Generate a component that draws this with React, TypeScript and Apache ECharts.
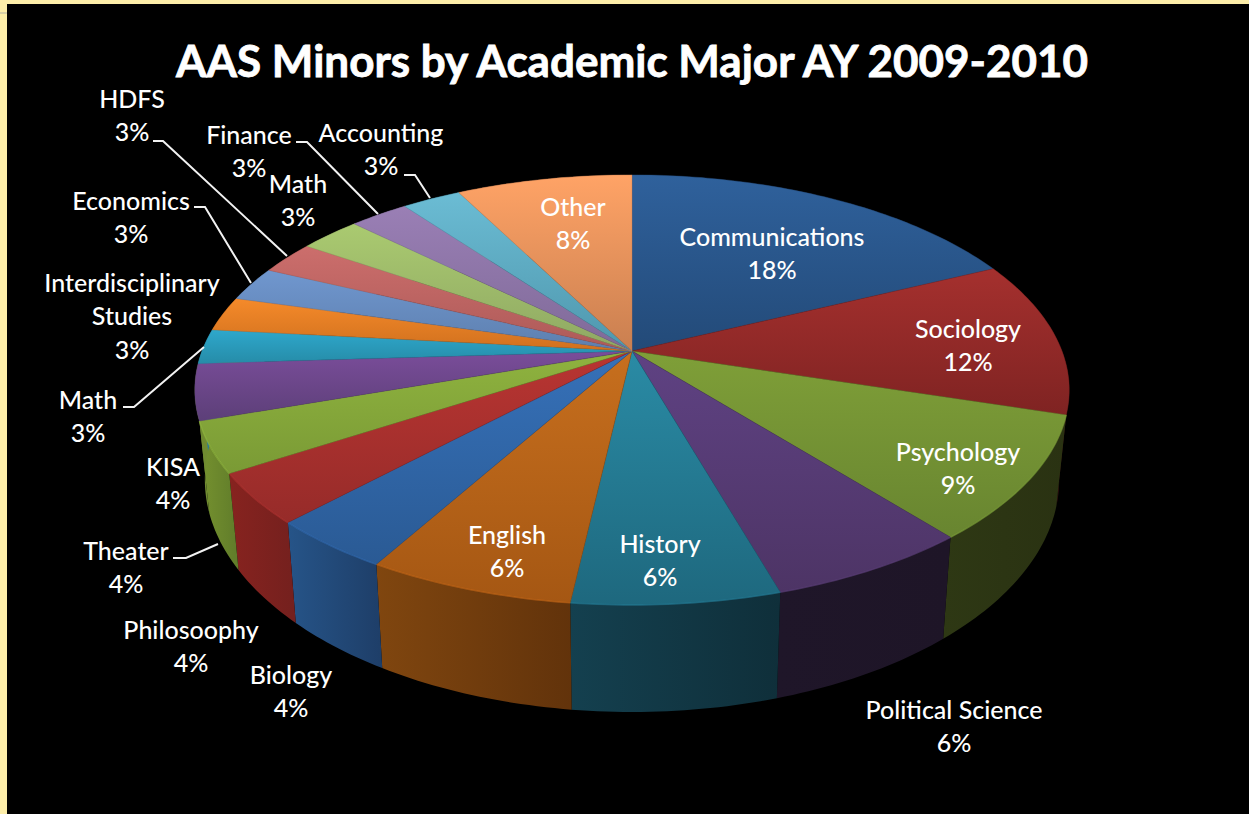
import React, { useEffect, useRef } from "react";
import * as echarts from "echarts";

const titleText = "AAS Minors by Academic Major AY 2009-2010";
const categories = [
  "Communications", "Sociology", "Psychology", "Political Science", "History", "English",
  "Biology", "Philosoophy", "Theater", "KISA", "Math", "Interdisciplinary\nStudies",
  "Economics", "HDFS", "Math", "Finance", "Accounting", "Other",
];
const shares = [18, 11.7, 9.3, 6.4, 6.48, 6.48, 3.9, 3.8, 3.8, 4.2, 2.6, 2.6, 2.6, 2.5, 2.7, 2.6, 2.6, 7.74];

const topBright = ["#2f619c", "#a5302e", "#7f9f38", "#5f4283", "#2a8ba5", "#c76f1e", "#3671b9", "#b93532", "#8fb33f", "#7a4d9a", "#2ea8cc", "#f58a2a", "#7097cf", "#cc6e6c", "#aaca70", "#9a7fb5", "#6bbcd4", "#ffa366"];
const topDark = ["#234a78", "#7f2322", "#688530", "#4d3465", "#1e687e", "#a55713", "#2a5a94", "#962b29", "#7a9a35", "#5c3f78", "#268ca8", "#d0701e", "#5d7fae", "#ad5a58", "#8fa863", "#7f6a98", "#4f97ad", "#c97f50"];
const wallLeft = ["#101f33", "#3a1110", "#2e3814", "#1f1629", "#14404f", "#80460f", "#265488", "#87231f", "#76922f", "#6f8a30", "#2a7a96", "#a86020", "#50709a", "#944e4c", "#7a9050", "#6a5a80", "#408090", "#a06a40"];
const wallRight = ["#101f33", "#3a1110", "#2a3212", "#1e1527", "#0f2f3a", "#62330b", "#1e3e68", "#74201e", "#607c2a", "#6f8a30", "#2a7a96", "#a86020", "#50709a", "#944e4c", "#7a9050", "#6a5a80", "#408090", "#a06a40"];

// label centres of the first line, and leader lines
const labelAnchors = [
  [772, 236], [968, 328], [958, 451], [954, 709], [660, 543], [507, 534],
  [291, 674], [191, 629], [126, 550], [173, 466], [88, 399], [132, 282],
  [131, 200], [132, 98], [298, 183], [249, 134], [381, 132], [573, 206],
];
const leaderLines = [
  [[153, 141], [163, 141], [287, 256]],
  [[296, 142], [307, 142], [378, 214]],
  [[404, 175], [415, 175], [430, 198]],
  [[194, 207], [205, 207], [251, 283]],
  [[123, 407], [134, 407], [204, 347]],
  [[173, 558], [186, 558], [218, 544]],
];

const FONT = "Lato, Carlito, sans-serif";
const cx = 632, cy = 351;
const K = 0.181, A = 430, B = 208;
const sideScale = 0.977, sideY = 1.08, rimFront = 605, baseFront = 712;

function projectTop(t: number) {
  const u = Math.sin(t), v = -Math.cos(t), w = 1 - K * v;
  return [cx + (A * u) / w, cy + (B * v) / w];
}
function projectBase(t: number) {
  const [x, y] = projectTop(t);
  return [cx + sideScale * (x - cx), baseFront + sideY * (y - rimFront)];
}
function arc(fn: (t: number) => number[], a: number, b: number) {
  const n = Math.max(2, Math.ceil(((b - a) * 180) / Math.PI));
  const pts: number[][] = [];
  for (let i = 0; i <= n; i++) pts.push(fn(a + ((b - a) * i) / n));
  return pts;
}
const total = shares.reduce((s, x) => s + x, 0);
const angleStart: number[] = [];
shares.reduce((acc, x, i) => {
  angleStart[i] = (acc / total) * Math.PI * 2;
  return acc + x;
}, 0);
const angleEnd = (i: number) => angleStart[i] + (shares[i] / total) * Math.PI * 2;

export default function App() {
  const ref = useRef<HTMLDivElement>(null);
  useEffect(() => {
    document.body.style.margin = "0";
    document.body.style.background = "#000";
    const chart = echarts.init(ref.current!, null, { renderer: "svg" });
    const data = shares.map((v, i) => ({ name: categories[i], value: v }));
    chart.setOption({
      animation: false,
      backgroundColor: "#000000",
      graphic: [
        { type: "rect", z: 0, shape: { x: 0, y: 0, width: 1249, height: 4 }, style: { fill: "#fdeea9" } },
        { type: "rect", z: 0, shape: { x: 0, y: 0, width: 7, height: 814 }, style: { fill: "#fdeea9" } },
        { type: "rect", z: 0, shape: { x: 0, y: 12, width: 7, height: 2 }, style: { fill: "#d8d0a8" } },
        {
          type: "text", z: 5, x: 632, y: 60,
          style: { text: titleText, fill: "#ffffff", font: `bold 44px ${FONT}`, align: "center", verticalAlign: "middle", stroke: "#ffffff", lineWidth: 0.8 },
        },
      ],
      series: [
        {
          type: "custom", coordinateSystem: "none", z: 1, silent: true, data,
          renderItem: (params: any) => {
            const i = params.dataIndex;
            const a = angleStart[i], b = angleEnd(i);
            const pts = [...arc(projectTop, a, b), ...arc(projectBase, a, b).reverse()];
            return {
              type: "polygon",
              shape: { points: pts },
              style: {
                fill: new echarts.graphic.LinearGradient(0, 0, 1, 0, [
                  { offset: 0, color: wallLeft[i] },
                  { offset: 1, color: wallRight[i] },
                ]),
              },
            };
          },
        },
        {
          type: "custom", coordinateSystem: "none", z: 2, silent: true, data,
          renderItem: (params: any) => {
            const i = params.dataIndex;
            const a = angleStart[i], b = angleEnd(i);
            const rim = arc(projectTop, a, b);
            const fill = new echarts.graphic.LinearGradient(0, 0, 0, 1, [
              { offset: 0, color: topBright[i] },
              { offset: 1, color: topDark[i] },
            ]);
            return {
              type: "group",
              children: [
                { type: "polygon", shape: { points: [[cx, cy], ...rim] }, style: { fill, stroke: topDark[i], lineWidth: 0.4 } },
                ...(i >= 2 && i <= 8
                  ? [{
                      type: "polyline",
                      shape: { points: rim },
                      style: { fill: "none", stroke: echarts.color.lift(topDark[i], -0.25), lineWidth: 1.5, opacity: 0.5 },
                    }]
                  : []),
              ],
            };
          },
        },
        {
          type: "custom", coordinateSystem: "none", z: 3, silent: true, data,
          renderItem: (params: any, api: any) => {
            const i = params.dataIndex;
            const [x, y] = labelAnchors[i];
            const pct = Math.round(api.value(0)) + "%";
            const name = categories[i];
            const children: any[] = [
              {
                type: "text",
                style: {
                  text: `${name}\n${pct}`, x, y: y - 17, fill: "#ffffff",
                  font: `500 25px ${FONT}`, lineHeight: 33.5, align: "center", verticalAlign: "top",
                },
              },
            ];
            if (i === 0) {
              leaderLines.forEach((l) =>
                children.push({
                  type: "polyline",
                  shape: { points: l },
                  style: { fill: "none", stroke: "#f2f2f2", lineWidth: 2 },
                })
              );
            }
            return { type: "group", children };
          },
          encode: { value: 0 },
        },
      ],
    });
    return () => chart.dispose();
  }, []);
  return <div ref={ref} style={{ position: "fixed", left: 0, top: 0, width: 1249, height: 814 }} />;
}
